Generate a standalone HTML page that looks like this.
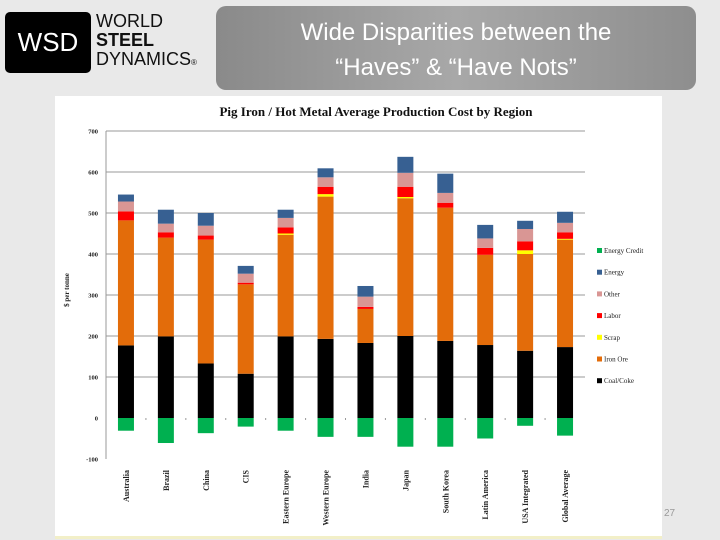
<!DOCTYPE html>
<html><head><meta charset="utf-8"><style>
body{margin:0;width:720px;height:540px;background:#e9e9e9;overflow:hidden;position:relative;font-family:"Liberation Sans",sans-serif}
.logo{position:absolute;left:5px;top:12px;width:86px;height:61px;background:#000;border-radius:5px;color:#fff;font-size:26px;line-height:61px;text-align:center}
.brand{position:absolute;left:96px;top:12px;font-size:18px;line-height:19px;color:#111}
.banner{position:absolute;left:216px;top:6px;width:480px;height:84px;border-radius:10px;background:linear-gradient(90deg,#8a8a8a,#a8a8a8 50%,#8e8e8e);color:#fff;text-align:center;font-size:24px;line-height:35px;padding-top:9px;box-sizing:border-box}
.chartbox{position:absolute;left:55px;top:96px;width:607px;height:440px;background:#fff;border-bottom:3px solid #f2efc8}
.pg{position:absolute;left:664px;top:508px;font-size:10px;color:#999}
</style></head><body>
<div class="logo">WSD</div>
<div class="brand">WORLD<br><b>STEEL</b><br>DYNAMICS<span style="font-size:8px">®</span></div>
<div class="banner">Wide Disparities between the<br>“Haves” &amp; “Have Nots”</div>
<div class="chartbox"></div>
<svg id="c" width="720" height="540" style="position:absolute;left:0;top:0"></svg>
<div class="pg">27</div>
<script>
const categories=["Australia","Brazil","China","CIS","Eastern Europe","Western Europe","India","Japan","South Korea","Latin America","USA Integrated","Global Average"];
const coalCoke=[177,199,133,108,199,193,183,200,188,178,164,173];
const ironOre=[305,241,302,218,248,347,83,336,325,220,236,262];
const scrap=[0,0,0,0,3,6,0,3,0,0,9,2];
const labor=[22,13,10,4,15,18,5,25,12,17,22,16];
const other=[24,21,24,22,23,23,25,34,24,23,30,23];
const energy=[17,34,31,19,20,22,26,39,47,33,20,27];
const energyCredit=[-31,-61,-37,-21,-31,-46,-46,-70,-70,-50,-19,-43];
const yTicks=[-100,0,100,200,300,400,500,600,700];
const legendLabels=["Energy Credit","Energy","Other","Labor","Scrap","Iron Ore","Coal/Coke"];
const svg=document.getElementById('c');const NS="http://www.w3.org/2000/svg";
function mk(t,a,p){const e=document.createElementNS(NS,t);for(const k in a)e.setAttribute(k,a[k]);(p||svg).appendChild(e);return e;}
const x0=106,x1=585,y0=418,sc=0.41;
const Y=v=>y0-v*sc;const step=(x1-x0)/categories.length;const X=i=>x0+step*(i+0.5);const bw=16;
let t=mk('text',{x:376,y:116,'text-anchor':'middle','font-family':'Liberation Serif,serif','font-weight':'bold','font-size':13,fill:'#111'});t.textContent="Pig Iron / Hot Metal Average Production Cost by Region";

yTicks.forEach(v=>{if(v>0){const g=mk('line',{x1:x0,x2:x1,y1:Y(v),y2:Y(v),stroke:'#999','stroke-width':1});}
 const l=mk('text',{x:98,y:Y(v)+2.5,'text-anchor':'end','font-family':'Liberation Serif,serif','font-weight':'bold','font-size':6.5,fill:'#222'});l.textContent=v;});
let ax=mk('line',{x1:x0,x2:x0,y1:Y(700),y2:Y(-100),stroke:'#999'});
let yt=mk('text',{x:0,y:0,transform:'translate(69,290) rotate(-90)','text-anchor':'middle','font-family':'Liberation Serif,serif','font-weight':'bold','font-size':7,fill:'#222'});yt.textContent="$ per tonne";
const series=[[coalCoke,'#000000'],[ironOre,'#e36c0a'],[scrap,'#ffff00'],[labor,'#ff0000'],[other,'#d99694'],[energy,'#376092']];
categories.forEach((c,i)=>{let base=0;series.forEach(([arr,col])=>{const v=arr[i];if(v>0){const r=mk('rect',{x:X(i)-bw/2,y:Y(base+v),width:bw,height:v*sc,fill:col});}base+=v;});
 const v=energyCredit[i];const r=mk('rect',{x:X(i)-bw/2,y:Y(0),width:bw,height:-v*sc,fill:'#00b050'});
 if(i>0){const tk=mk('line',{x1:x0+step*i,x2:x0+step*i,y1:y0,y2:y0+2,stroke:'#999'});}
 const l=mk('text',{x:0,y:0,transform:`translate(${X(i)+3},470) rotate(-90)`,'text-anchor':'end','font-family':'Liberation Serif,serif','font-weight':'bold','font-size':8,fill:'#222'});l.textContent=c;});
const lcol=['#00b050','#376092','#d99694','#ff0000','#ffff00','#e36c0a','#000000'];
legendLabels.forEach((n,i)=>{const y=251+i*21.7;const r=mk('rect',{x:597,y:y-3,width:5,height:5,fill:lcol[i]});
 const l=mk('text',{x:604,y:y+2,'font-family':'Liberation Serif,serif','font-size':7,fill:'#222'});l.textContent=n;});
</script>
</body></html>
